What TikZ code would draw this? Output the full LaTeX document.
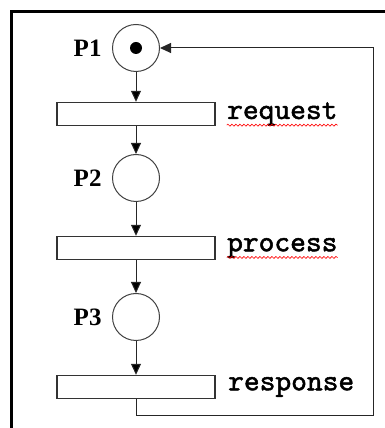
\documentclass[tikz,border=0pt]{standalone}
\usepackage{fontspec}
\setmainfont{Liberation Serif}
\setmonofont{lmmono10-regular.otf}[AutoFakeBold=1.6]
\usetikzlibrary{positioning,arrows.meta,decorations.pathmorphing}
\tikzset{
  >={Triangle[length=11pt,width=10pt]},
  place/.style={draw=black!75, circle, line width=1pt, minimum size=47pt, inner sep=0pt},
  trans/.style={draw=black!80, rectangle, line width=1.4pt, minimum width=158pt, minimum height=23pt, inner sep=0pt},
  plabel/.style={font=\fontsize{25}{25}\selectfont\bfseries, inner sep=0pt},
  tlabel/.style={font=\fontsize{30}{30}\selectfont\ttfamily\bfseries, inner sep=0pt},
  spell/.style={draw=red, line width=0.6pt, decorate, decoration={snake, amplitude=1pt, segment length=4pt}},
}

\begin{document}
\begin{tikzpicture}[x=1pt, y=1pt, node distance=68pt, line width=1pt]
    \useasboundingbox (0,0) rectangle (385,428);
    % frame, cut at right and bottom
    \draw[line width=3pt] (11,0) -- (11,416) -- (385,416);

    \node[place]  (P1)   at (136,380) {};
    \node[trans]  (Treq)  [below of=P1, node distance=66pt]    {};
    \node[place]  (P2)    [below of=Treq, node distance=64pt]  {};
    \node[trans]  (Tproc) [below of=P2, node distance=70pt]    {};
    \node[place]  (P3)    [below of=Tproc, node distance=69pt] {};
    \node[trans]  (Tresp) [below of=P3, node distance=70pt]    {};
    \fill (P1.center) circle (6pt);

    \node[plabel] (lP1) [left=10pt of P1] {P1};
    \node[plabel] (lP2) [left=10pt of P2] {P2};
    \node[plabel] (lP3) [left=10pt of P3] {P3};
    \node[tlabel] (lreq)  [right=11pt of Treq]  {request};
    \node[tlabel] (lproc) [right=11pt of Tproc] {process};
    \node[tlabel] (lresp) [right=12pt of Tresp] {response};
    \draw[spell] ([yshift=1pt]lreq.south west) -- ([yshift=1pt]lreq.south east);
    \draw[spell] ([yshift=1pt]lproc.south west) -- ([yshift=1pt]lproc.south east);

    \coordinate (back) at (373,12);
    \path[->, draw=black!85]
      (P1) edge (Treq)
      (Treq) edge (P2)
      (P2) edge (Tproc)
      (Tproc) edge (P3)
      (P3) edge (Tresp);
    \draw[->, draw=black!85] (Tresp.south) |- (back) |- (P1.east);
  \end{tikzpicture}
\end{document}
